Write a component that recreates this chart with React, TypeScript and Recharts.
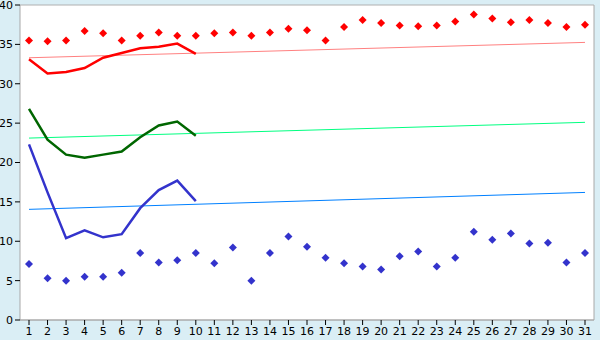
import {
  CartesianGrid,
  ComposedChart,
  Line,
  XAxis,
  YAxis,
} from "recharts";

const DAYS = Array.from({ length: 31 }, (_, i) => i + 1);

// upper diamonds (red) and lower diamonds (blue), one per day
const HIGH_POINTS = [
  35.5, 35.4, 35.5, 36.7, 36.4, 35.5, 36.1, 36.5, 36.1, 36.1,
  36.4, 36.5, 36.1, 36.5, 37.0, 36.8, 35.5, 37.2, 38.1, 37.7,
  37.4, 37.3, 37.4, 37.9, 38.8, 38.3, 37.8, 38.1, 37.7, 37.2, 37.5,
];
const LOW_POINTS = [
  7.1, 5.3, 5.0, 5.5, 5.5, 6.0, 8.5, 7.3, 7.6, 8.5,
  7.2, 9.2, 5.0, 8.5, 10.6, 9.3, 7.9, 7.2, 6.8, 6.4,
  8.1, 8.7, 6.8, 7.9, 11.2, 10.2, 11.0, 9.7, 9.8, 7.3, 8.5,
];

// first ten days only
const RED_LINE = [33.1, 31.3, 31.5, 32.0, 33.3, 33.9, 34.5, 34.7, 35.1, 33.8];
const GREEN_LINE = [26.8, 22.9, 21.0, 20.6, 21.0, 21.4, 23.2, 24.7, 25.2, 23.4];
const BLUE_LINE = [22.3, 16.2, 10.4, 11.4, 10.5, 10.9, 14.2, 16.5, 17.7, 15.1];

// trend lines: value at first and last day
const RED_TREND = [33.3, 35.25];
const GREEN_TREND = [23.1, 25.1];
const BLUE_TREND = [14.05, 16.2];

const Y_TICKS = [0, 5, 10, 15, 20, 25, 30, 35, 40];

const data = DAYS.map((day, i) => ({
  day,
  high: HIGH_POINTS[i],
  low: LOW_POINTS[i],
  red: RED_LINE[i],
  green: GREEN_LINE[i],
  blue: BLUE_LINE[i],
  redTrend: i === 0 ? RED_TREND[0] : i === DAYS.length - 1 ? RED_TREND[1] : undefined,
  greenTrend: i === 0 ? GREEN_TREND[0] : i === DAYS.length - 1 ? GREEN_TREND[1] : undefined,
  blueTrend: i === 0 ? BLUE_TREND[0] : i === DAYS.length - 1 ? BLUE_TREND[1] : undefined,
}));

const diamond = (color: string) => (props: any) => {
  const { cx, cy, index } = props;
  if (cx == null || cy == null) return <g key={index} />;
  const r = 4;
  return (
    <polygon
      key={index}
      points={`${cx},${cy - r} ${cx + r},${cy} ${cx},${cy + r} ${cx - r},${cy}`}
      fill={color}
    />
  );
};

const TICK = { fontSize: 11, fill: "#000", fontFamily: "DejaVu Sans" };

export default function App() {
  return (
    <div style={{ position: "absolute", left: 0, top: 0, width: 600, height: 340, background: "#daeef5" }}>
      <ComposedChart width={600} height={340} data={data} margin={{ top: 5, right: 5, left: 0, bottom: 0 }}>
        <CartesianGrid vertical={false} stroke="#b0b0b0" fill="#fff" />
        <XAxis
          dataKey="day"
          interval={0}
          padding={{ left: 9, right: 9 }}
          tick={TICK}
          tickLine={{ stroke: "#000" }}
          tickSize={5}
          axisLine={{ stroke: "#a8a8a8" }}
          height={20}
        />
        <YAxis
          yAxisId="l"
          domain={[0, 40]}
          ticks={Y_TICKS}
          interval={0}
          tick={TICK}
          tickLine={{ stroke: "#000" }}
          tickSize={5}
          axisLine={{ stroke: "#a8a8a8" }}
          width={20}
        />
        <YAxis
          yAxisId="r"
          orientation="right"
          domain={[0, 40]}
          tick={false}
          tickLine={false}
          axisLine={{ stroke: "#a8a8a8" }}
          width={1}
        />
        <Line yAxisId="l" dataKey="redTrend" stroke="#ff8080" strokeWidth={1} dot={false} connectNulls isAnimationActive={false} />
        <Line yAxisId="l" dataKey="greenTrend" stroke="#00ff80" strokeWidth={1} dot={false} connectNulls isAnimationActive={false} />
        <Line yAxisId="l" dataKey="blueTrend" stroke="#0080ff" strokeWidth={1} dot={false} connectNulls isAnimationActive={false} />
        <Line yAxisId="l" dataKey="red" stroke="#ff0000" strokeWidth={2.5} dot={false} isAnimationActive={false} />
        <Line yAxisId="l" dataKey="green" stroke="#006600" strokeWidth={2.5} dot={false} isAnimationActive={false} />
        <Line yAxisId="l" dataKey="blue" stroke="#3333cc" strokeWidth={2.5} dot={false} isAnimationActive={false} />
        <Line yAxisId="l" dataKey="high" stroke="none" dot={diamond("#ff0000")} activeDot={false} isAnimationActive={false} />
        <Line yAxisId="l" dataKey="low" stroke="none" dot={diamond("#3333cc")} activeDot={false} isAnimationActive={false} />
      </ComposedChart>
    </div>
  );
}
